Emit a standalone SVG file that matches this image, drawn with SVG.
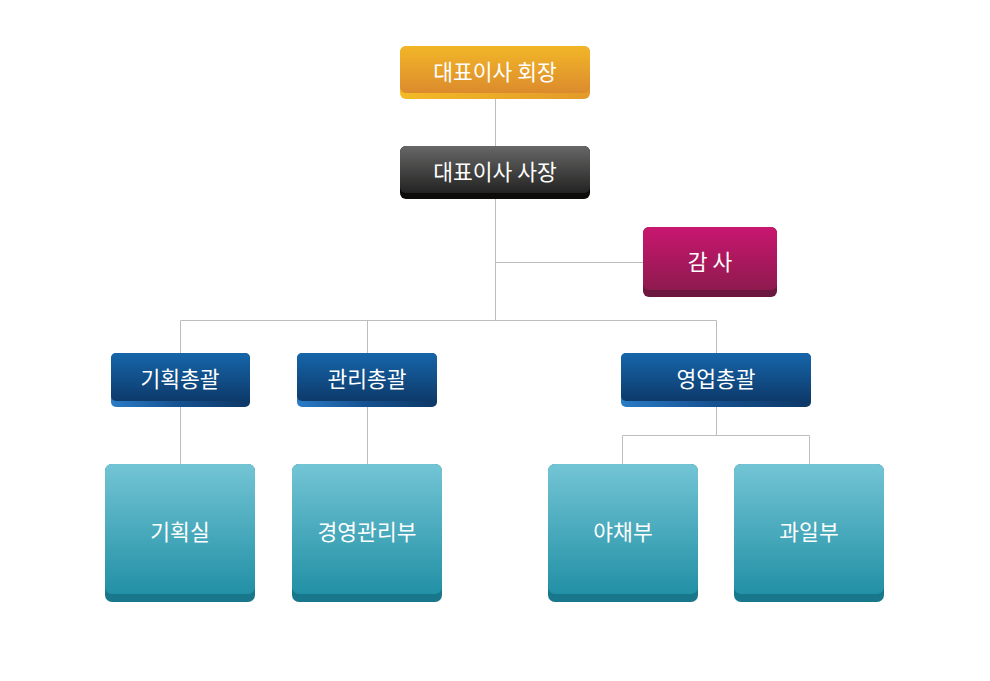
<svg xmlns="http://www.w3.org/2000/svg" width="990" height="681" viewBox="0 0 990 681">
<defs>
<linearGradient id="gOr" x1="0" y1="0" x2="0" y2="1"><stop offset="0" stop-color="#F2B628"/><stop offset="1" stop-color="#DC8B2D"/></linearGradient>
<linearGradient id="gOrL" x1="0" y1="0" x2="1" y2="0"><stop offset="0" stop-color="#F3BA25"/><stop offset="1" stop-color="#E39A2A"/></linearGradient>
<linearGradient id="gDk" x1="0" y1="0" x2="0" y2="1"><stop offset="0" stop-color="#666766"/><stop offset="1" stop-color="#242323"/></linearGradient>
<linearGradient id="gMg" x1="0" y1="0" x2="0" y2="1"><stop offset="0" stop-color="#C9166F"/><stop offset="1" stop-color="#8E1A4F"/></linearGradient>
<linearGradient id="gBl" x1="0" y1="0" x2="0" y2="1"><stop offset="0" stop-color="#1666AA"/><stop offset="1" stop-color="#0D3A6B"/></linearGradient>
<linearGradient id="gBlL" x1="0" y1="0" x2="1" y2="0"><stop offset="0" stop-color="#2A7BC6"/><stop offset="0.5" stop-color="#15508F"/><stop offset="1" stop-color="#0D3866"/></linearGradient>
<linearGradient id="gTl" x1="0" y1="0" x2="0" y2="1"><stop offset="0" stop-color="#73C5D5"/><stop offset="1" stop-color="#2290A5"/></linearGradient>
</defs>
<style>
.t{font-family:"Noto Sans CJK KR","Noto Sans",sans-serif;fill:#fff;font-size:21.5px;text-anchor:middle;dominant-baseline:central;font-weight:400}
.c{stroke:#BDBDBD;stroke-width:1;fill:none}
</style>
<rect width="990" height="681" fill="#fff"/>
<g id="connectors">
<path class="c" d="M495.5 98V146M495.5 198V320.5M495.5 262.5H643M180.5 320.5H716.5M180.5 320.5V353M367.5 320.5V353M716.5 320.5V353M180.5 407V464M367.5 407V464M716.5 407V435.5M622.5 435.5H809.5M622.5 435.5V464M809.5 435.5V464"/>
</g>
<g id="n-chair">
<rect x="400" y="46" width="190" height="53" rx="6" fill="url(#gOrL)"/>
<rect x="400" y="46" width="190" height="47" rx="6" fill="url(#gOr)"/>
<text class="t" x="495" y="70">대표이사 회장</text>
</g>
<g id="n-president">
<rect x="400" y="146" width="190" height="53" rx="6" fill="#0E0C0B"/>
<rect x="400" y="146" width="190" height="47" rx="6" fill="url(#gDk)"/>
<text class="t" x="495" y="170">대표이사 사장</text>
</g>
<g id="n-audit">
<rect x="643" y="227" width="134" height="70" rx="6" fill="#6C1740"/>
<rect x="643" y="227" width="134" height="63" rx="6" fill="url(#gMg)"/>
<text class="t" x="710" y="260">감 사</text>
</g>
<g id="n-plan">
<rect x="111" y="353" width="139" height="54" rx="5" fill="url(#gBlL)"/>
<rect x="111" y="353" width="139" height="48" rx="5" fill="url(#gBl)"/>
<text class="t" x="180" y="377">기획총괄</text>
</g>
<g id="n-admin">
<rect x="297" y="353" width="140" height="54" rx="5" fill="url(#gBlL)"/>
<rect x="297" y="353" width="140" height="48" rx="5" fill="url(#gBl)"/>
<text class="t" x="367" y="377">관리총괄</text>
</g>
<g id="n-sales">
<rect x="621" y="353" width="190" height="54" rx="5" fill="url(#gBlL)"/>
<rect x="621" y="353" width="190" height="48" rx="5" fill="url(#gBl)"/>
<text class="t" x="716" y="377">영업총괄</text>
</g>
<g id="n-planroom">
<rect x="105" y="464" width="150" height="138" rx="7" fill="#18778B"/>
<rect x="105" y="464" width="150" height="130" rx="7" fill="url(#gTl)"/>
<text class="t" x="180" y="530">기획실</text>
</g>
<g id="n-mgmt">
<rect x="292" y="464" width="150" height="138" rx="7" fill="#18778B"/>
<rect x="292" y="464" width="150" height="130" rx="7" fill="url(#gTl)"/>
<text class="t" x="367" y="530">경영관리부</text>
</g>
<g id="n-veg">
<rect x="548" y="464" width="150" height="138" rx="7" fill="#18778B"/>
<rect x="548" y="464" width="150" height="130" rx="7" fill="url(#gTl)"/>
<text class="t" x="623" y="530">야채부</text>
</g>
<g id="n-fruit">
<rect x="734" y="464" width="150" height="138" rx="7" fill="#18778B"/>
<rect x="734" y="464" width="150" height="130" rx="7" fill="url(#gTl)"/>
<text class="t" x="809" y="530">과일부</text>
</g>
</svg>
